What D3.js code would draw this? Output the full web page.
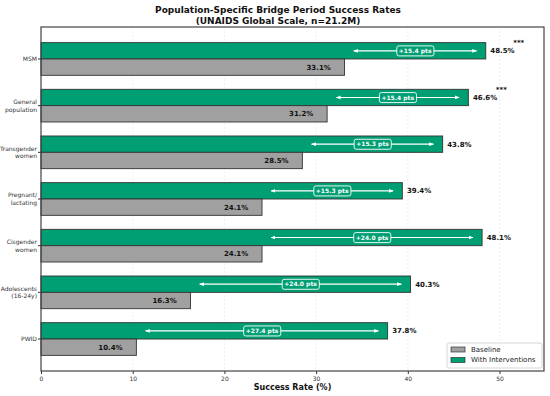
<!DOCTYPE html>
<html>
<head>
<meta charset="utf-8">
<script src="https://cdn.jsdelivr.net/npm/d3@7"></script>
<style>
  body { margin: 0; background: #fff; }
  svg { font-family: 'DejaVu Sans', sans-serif; display: block; }
</style>
</head>
<body>
<div id="chart"></div>
<script>
(function () {
  'use strict';

  var categories = ['MSM', 'General\npopulation', 'Transgender\nwomen', 'Pregnant/\nlactating',
                    'Cisgender\nwomen', 'Adolescents\n(16-24y)', 'PWID'];
  var baseline = [33.1, 31.2, 28.5, 24.1, 24.1, 16.3, 10.4];
  var intervention = [48.5, 46.6, 43.8, 39.4, 48.1, 40.3, 37.8];
  var significant = [true, true, false, false, false, false, false];
  var xTicks = [0, 10, 20, 30, 40, 50];

  var w = 550,
      h = 396,
      left = 41,
      right = 544,
      top = 27,
      bottom = 371,
      barH = 0.35,
      green = '#009E73',
      grey = '#A0A0A0';

  var svg = d3.select('#chart').append('svg')
    .attr('width', w)
    .attr('height', h);

  var x = d3.scaleLinear().domain([0, 54.85]).range([left, right]);
  var y = d3.scaleLinear().domain([-0.685, 6.685]).range([top, bottom]);

  // grid
  svg.append('g').selectAll('line')
    .data(xTicks)
    .enter()
    .append('line')
    .attr('x1', function (d) { return x(d); })
    .attr('x2', function (d) { return x(d); })
    .attr('y1', top)
    .attr('y2', bottom)
    .attr('stroke', '#b0b0b0')
    .attr('stroke-opacity', 0.35)
    .attr('stroke-dasharray', '2,2')
    .attr('stroke-width', 0.6);

  var rows = categories.map(function (c, i) {
    return {cat: c, b: baseline[i], v: intervention[i], sig: significant[i], i: i};
  });

  // intervention bars (upper)
  svg.append('g').selectAll('rect')
    .data(rows)
    .enter()
    .append('rect')
    .attr('x', x(0))
    .attr('y', function (d) { return y(d.i - barH); })
    .attr('width', function (d) { return x(d.v) - x(0); })
    .attr('height', y(barH) - y(0))
    .attr('fill', green)
    .attr('stroke', '#333')
    .attr('stroke-width', 0.9);

  // baseline bars (lower)
  svg.append('g').selectAll('rect')
    .data(rows)
    .enter()
    .append('rect')
    .attr('x', x(0))
    .attr('y', function (d) { return y(d.i); })
    .attr('width', function (d) { return x(d.b) - x(0); })
    .attr('height', y(barH) - y(0))
    .attr('fill', grey)
    .attr('stroke', '#333')
    .attr('stroke-width', 0.9);

  // baseline value labels
  svg.append('g').selectAll('text')
    .data(rows)
    .enter()
    .append('text')
    .attr('x', function (d) { return x(d.b - 1.5); })
    .attr('y', function (d) { return y(d.i + barH / 2); })
    .attr('dy', '0.35em')
    .attr('text-anchor', 'end')
    .attr('font-size', 7)
    .attr('font-weight', 'bold')
    .attr('fill', '#111')
    .text(function (d) { return d.b.toFixed(1) + '%'; });

  // intervention value labels
  svg.append('g').selectAll('text')
    .data(rows)
    .enter()
    .append('text')
    .attr('x', function (d) { return x(d.v + 0.5); })
    .attr('y', function (d) { return y(d.i - barH / 2); })
    .attr('dy', '0.35em')
    .attr('text-anchor', 'start')
    .attr('font-size', 7)
    .attr('font-weight', 'bold')
    .attr('fill', '#111')
    .text(function (d) { return d.v.toFixed(1) + '%'; });

  // significance stars
  svg.append('g').selectAll('text')
    .data(rows.filter(function (d) { return d.sig; }))
    .enter()
    .append('text')
    .attr('x', function (d) { return x(d.v + 3.6); })
    .attr('y', function (d) { return y(d.i - barH / 2 - 0.17); })
    .attr('dy', '0.35em')
    .attr('text-anchor', 'middle')
    .attr('font-size', 7)
    .attr('font-weight', 'bold')
    .attr('fill', '#111')
    .text('***');

  // improvement arrows
  var defs = svg.append('defs');
  defs.append('marker')
    .attr('id', 'head')
    .attr('viewBox', '0 0 10 10')
    .attr('refX', 9)
    .attr('refY', 5)
    .attr('markerWidth', 4)
    .attr('markerHeight', 4)
    .attr('orient', 'auto-start-reverse')
    .append('path')
    .attr('d', 'M0,1 L10,5 L0,9 z')
    .attr('fill', '#fff');

  var arrows = svg.append('g');
  arrows.selectAll('line')
    .data(rows)
    .enter()
    .append('line')
    .attr('x1', function (d) { return x(d.b + 1); })
    .attr('x2', function (d) { return x(d.v - 1); })
    .attr('y1', function (d) { return y(d.i - barH / 2); })
    .attr('y2', function (d) { return y(d.i - barH / 2); })
    .attr('stroke', '#fff')
    .attr('stroke-width', 1.2)
    .attr('marker-start', 'url(#head)')
    .attr('marker-end', 'url(#head)');

  var tags = arrows.selectAll('g.tag')
    .data(rows)
    .enter()
    .append('g')
    .attr('class', 'tag')
    .attr('transform', function (d) {
      return 'translate(' + x((d.b + d.v) / 2) + ',' + y(d.i - barH / 2) + ')';
    });

  tags.append('text')
    .attr('text-anchor', 'middle')
    .attr('dy', '0.35em')
    .attr('font-size', 6)
    .attr('font-weight', 'bold')
    .attr('fill', '#fff')
    .text(function (d) { return '+' + (d.v - d.b).toFixed(1) + ' pts'; });

  tags.each(function () {
    var g = d3.select(this);
    var bb = g.select('text').node().getBBox();
    g.insert('rect', 'text')
      .attr('x', bb.x - 2)
      .attr('y', bb.y - 1)
      .attr('width', bb.width + 4)
      .attr('height', bb.height + 2)
      .attr('rx', 2)
      .attr('fill', green)
      .attr('stroke', '#fff')
      .attr('stroke-width', 0.9);
  });

  // axes
  var xAxis = svg.append('g')
    .attr('transform', 'translate(0,' + bottom + ')')
    .call(d3.axisBottom(x).tickValues(xTicks).tickSize(3).tickPadding(3).tickFormat(d3.format('d')));
  xAxis.select('.domain').remove();
  xAxis.selectAll('text').attr('font-size', 6).attr('fill', '#333').attr('font-family', 'DejaVu Sans');
  xAxis.selectAll('line').attr('stroke', '#333');

  var yLabels = svg.append('g').selectAll('text')
    .data(rows)
    .enter()
    .append('text')
    .attr('text-anchor', 'end')
    .attr('font-size', 6)
    .attr('fill', '#333')
    .attr('transform', function (d) { return 'translate(37,' + y(d.i) + ')'; });

  yLabels.each(function (d) {
    var lines = d.cat.split('\n');
    var t = d3.select(this);
    lines.forEach(function (l, k) {
      t.append('tspan')
        .attr('x', 0)
        .attr('y', (k - (lines.length - 1) / 2) * 7.5)
        .attr('dy', '0.35em')
        .text(l);
    });
  });

  svg.append('g').selectAll('line')
    .data(rows)
    .enter()
    .append('line')
    .attr('x1', left - 3)
    .attr('x2', left)
    .attr('y1', function (d) { return y(d.i); })
    .attr('y2', function (d) { return y(d.i); })
    .attr('stroke', '#333');

  // frame
  svg.append('rect')
    .attr('x', left)
    .attr('y', top)
    .attr('width', right - left)
    .attr('height', bottom - top)
    .attr('fill', 'none')
    .attr('stroke', '#444')
    .attr('stroke-width', 1.2);

  // legend
  var leg = svg.append('g').attr('transform', 'translate(447,343)');
  leg.append('rect')
    .attr('width', 95)
    .attr('height', 25)
    .attr('rx', 2)
    .attr('fill', '#fff')
    .attr('fill-opacity', 0.8)
    .attr('stroke', '#ccc')
    .attr('stroke-width', 0.8);

  var legItems = [{name: 'Baseline', color: grey}, {name: 'With Interventions', color: green}];
  var li = leg.selectAll('g.item')
    .data(legItems)
    .enter()
    .append('g')
    .attr('transform', function (d, i) { return 'translate(4,' + (4 + i * 10.5) + ')'; });
  li.append('rect')
    .attr('width', 14)
    .attr('height', 5)
    .attr('fill', function (d) { return d.color; })
    .attr('stroke', '#333')
    .attr('stroke-width', 0.7);
  li.append('text')
    .attr('x', 20)
    .attr('y', 2.5)
    .attr('dy', '0.35em')
    .attr('font-size', 7)
    .attr('fill', '#222')
    .text(function (d) { return d.name; });

  // titles
  svg.append('text')
    .attr('x', 278)
    .attr('y', 13)
    .attr('text-anchor', 'middle')
    .attr('font-size', 9)
    .attr('font-weight', 'bold')
    .attr('fill', '#111')
    .text('Population-Specific Bridge Period Success Rates');
  svg.append('text')
    .attr('x', 278)
    .attr('y', 24)
    .attr('text-anchor', 'middle')
    .attr('font-size', 9)
    .attr('font-weight', 'bold')
    .attr('fill', '#111')
    .text('(UNAIDS Global Scale, n=21.2M)');

  svg.append('text')
    .attr('x', (left + right) / 2)
    .attr('y', 390)
    .attr('text-anchor', 'middle')
    .attr('font-size', 8)
    .attr('font-weight', 'bold')
    .attr('fill', '#111')
    .text('Success Rate (%)');
}());
</script>
</body>
</html>
